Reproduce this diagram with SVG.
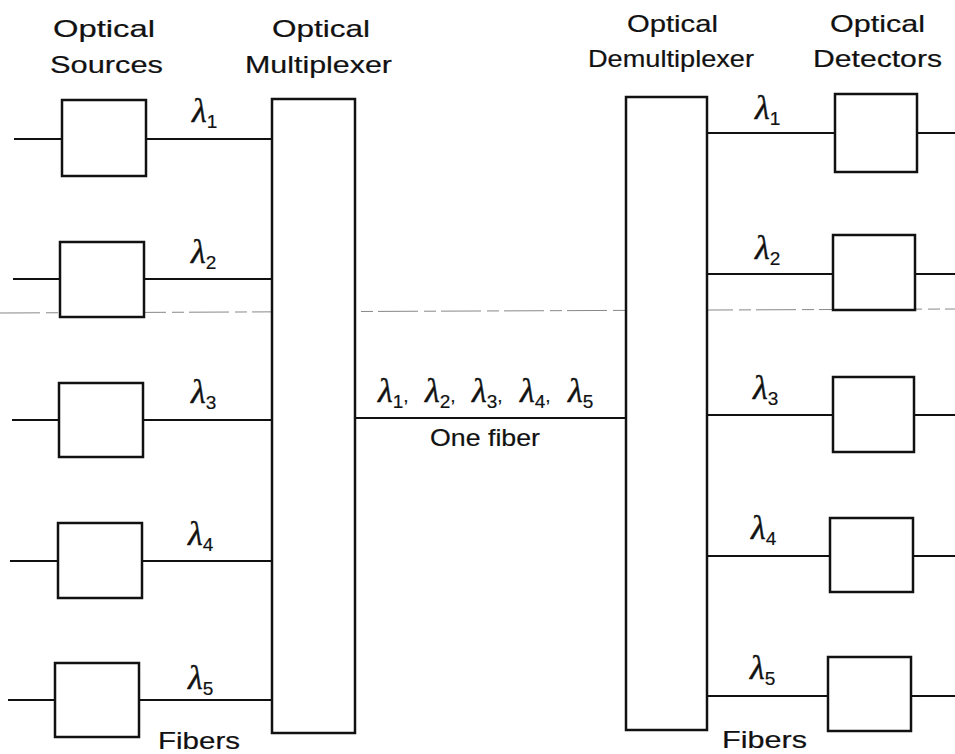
<svg xmlns="http://www.w3.org/2000/svg" width="955" height="754" viewBox="0 0 955 754">
<style>
.bg{fill:#ffffff}
.box{fill:#ffffff;stroke:#111;stroke-width:2.5}
.ln{stroke:#111;stroke-width:2;fill:none}
.hd{font-family:"Liberation Sans",Arial,sans-serif;font-size:24px;fill:#111;stroke:#111;stroke-width:0.2}
.lam{font-family:"Liberation Serif","Times New Roman",serif;font-style:italic;font-size:34px;fill:#111;stroke:#111;stroke-width:0.4}
.sub{font-family:"Liberation Sans",Arial,sans-serif;font-style:normal;font-size:19px;stroke-width:0.2}
.scan{stroke:#888;stroke-width:1;stroke-dasharray:40 6 12 5;fill:none}
</style>
<rect class="bg" x="0" y="0" width="955" height="754"/>
<path class="scan" d="M0,313 L955,309"/>

<g id="labels">
<text class="hd" x="53" y="37" textLength="102" lengthAdjust="spacingAndGlyphs">Optical</text>
<text class="hd" x="50" y="73" textLength="113" lengthAdjust="spacingAndGlyphs">Sources</text>
<text class="hd" x="272" y="37" textLength="98" lengthAdjust="spacingAndGlyphs">Optical</text>
<text class="hd" x="245" y="73" textLength="147" lengthAdjust="spacingAndGlyphs">Multiplexer</text>
<text class="hd" x="627" y="32" textLength="91" lengthAdjust="spacingAndGlyphs">Optical</text>
<text class="hd" x="588" y="67" textLength="166" lengthAdjust="spacingAndGlyphs">Demultiplexer</text>
<text class="hd" x="830" y="32" textLength="95" lengthAdjust="spacingAndGlyphs">Optical</text>
<text class="hd" x="813" y="67" textLength="129" lengthAdjust="spacingAndGlyphs">Detectors</text>
<text class="hd" x="430" y="446" font-size="23" textLength="110" lengthAdjust="spacingAndGlyphs">One fiber</text>
<text class="hd" x="158" y="749" textLength="82" lengthAdjust="spacingAndGlyphs">Fibers</text>
<text class="hd" x="722" y="748" textLength="85" lengthAdjust="spacingAndGlyphs">Fibers</text>
</g>

<g id="connectors">
<path class="ln" d="M14,139H62 M146,139H272"/>
<path class="ln" d="M13,279H60 M144,279H272"/>
<path class="ln" d="M12,420H59 M143,420H272"/>
<path class="ln" d="M10,561H58 M142,561H272"/>
<path class="ln" d="M8,700H55 M139,700H272"/>
<path class="ln" d="M355,418H626"/>
<path class="ln" d="M707,133H835 M917,133H955"/>
<path class="ln" d="M707,274H833 M915,274H955"/>
<path class="ln" d="M707,415H833 M914,415H955"/>
<path class="ln" d="M707,556H830 M913,556H955"/>
<path class="ln" d="M707,696H828 M911,696H955"/>
</g>

<g id="wavelengths">
<text class="lam" x="192" y="122">λ<tspan class="sub" dy="6">1</tspan></text>
<text class="lam" x="191" y="263">λ<tspan class="sub" dy="6">2</tspan></text>
<text class="lam" x="191" y="403">λ<tspan class="sub" dy="6">3</tspan></text>
<text class="lam" x="188" y="545">λ<tspan class="sub" dy="6">4</tspan></text>
<text class="lam" x="188" y="689">λ<tspan class="sub" dy="6">5</tspan></text>
<text class="lam" x="755" y="119">λ<tspan class="sub" dy="6">1</tspan></text>
<text class="lam" x="755" y="259">λ<tspan class="sub" dy="6">2</tspan></text>
<text class="lam" x="753" y="399">λ<tspan class="sub" dy="6">3</tspan></text>
<text class="lam" x="751" y="539">λ<tspan class="sub" dy="6">4</tspan></text>
<text class="lam" x="750" y="679">λ<tspan class="sub" dy="6">5</tspan></text>
<text class="lam" y="402"><tspan x="378">λ</tspan><tspan class="sub" dy="6">1</tspan><tspan class="sub" dy="-6">,</tspan><tspan x="425">λ</tspan><tspan class="sub" dy="6">2</tspan><tspan class="sub" dy="-6">,</tspan><tspan x="472">λ</tspan><tspan class="sub" dy="6">3</tspan><tspan class="sub" dy="-6">,</tspan><tspan x="520">λ</tspan><tspan class="sub" dy="6">4</tspan><tspan class="sub" dy="-6">,</tspan><tspan x="568">λ</tspan><tspan class="sub" dy="6">5</tspan></text>
</g>

<g id="source1"><rect class="box" x="62" y="100" width="84" height="76"/></g>
<g id="source2"><rect class="box" x="60" y="242" width="84" height="75"/></g>
<g id="source3"><rect class="box" x="59" y="383" width="84" height="74"/></g>
<g id="source4"><rect class="box" x="58" y="523" width="84" height="75"/></g>
<g id="source5"><rect class="box" x="55" y="663" width="84" height="74"/></g>

<g id="multiplexer"><rect class="box" x="272" y="99" width="83" height="634"/></g>
<g id="demultiplexer"><rect class="box" x="626" y="97" width="81" height="633"/></g>

<g id="detector1"><rect class="box" x="835" y="94" width="82" height="78"/></g>
<g id="detector2"><rect class="box" x="833" y="235" width="82" height="75"/></g>
<g id="detector3"><rect class="box" x="833" y="377" width="81" height="75"/></g>
<g id="detector4"><rect class="box" x="830" y="518" width="83" height="74"/></g>
<g id="detector5"><rect class="box" x="828" y="657" width="83" height="74"/></g>
</svg>
